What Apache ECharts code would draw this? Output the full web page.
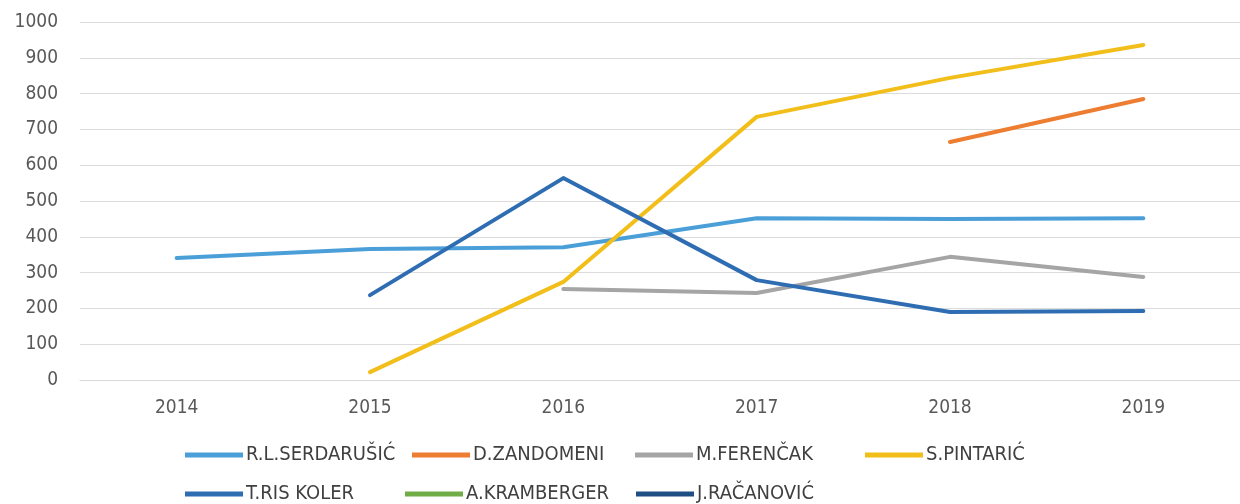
<!DOCTYPE html>
<html>
<head>
<meta charset="utf-8">
<script src="https://cdn.jsdelivr.net/npm/echarts@6/dist/echarts.min.js"></script>
<style>
  html, body { margin: 0; padding: 0; background: #fff; }
  #chart { width: 1240px; height: 504px; }
</style>
</head>
<body>
<div id="chart"></div>
<script>
// data
var years = ['2014', '2015', '2016', '2017', '2018', '2019']
var serdarusic = [341, 366, 371, 452, 450, 452]
var zandomeni = [null, null, null, null, 665, 785]
var ferencak = [null, null, 254, 243, 344, 288]
var pintaric = [null, 22, 274, 735, 844, 936]
var risKoler = [null, 237, 564, 279, 190, 193]
var kramberger = [null, null, null, null, null, null]
var racanovic = [null, null, null, null, null, null]

var names = ['R.L.SERDARUŠIĆ', 'D.ZANDOMENI', 'M.FERENČAK', 'S.PINTARIĆ', 'T.RIS KOLER', 'A.KRAMBERGER', 'J.RAČANOVIĆ']
var colors = ['#4A9FD8', '#ED7D31', '#A5A5A5', '#F2BE1A', '#2E6DB2', '#70AD47', '#1F4E85']
var values = [serdarusic, zandomeni, ferencak, pintaric, risKoler, kramberger, racanovic]

// legend slots (left, top) like the original two-row layout
var legendLeft = [185, 412, 635, 865, 185, 405, 636]
var legendTop = [445, 445, 445, 445, 484, 484, 484]

var font = '"Liberation Sans Narrow", "DejaVu Sans Condensed", "Liberation Sans", sans-serif'

var chart = echarts.init(document.getElementById('chart'))

chart.setOption({
  animation: false,
  color: colors,
  grid: {
    left: 80,
    right: 0,
    top: 22,
    bottom: 124
  },
  legend: names.map(function (name, i) {
    return {
      data: [name],
      left: legendLeft[i],
      top: legendTop[i],
      padding: 0,
      icon: 'rect',
      itemWidth: 58,
      itemHeight: 5,
      itemGap: 0,
      textStyle: {
        color: '#404040',
        fontSize: 20,
        fontFamily: font,
        padding: [0, 0, 0, -2]
      }
    }
  }),
  xAxis: {
    type: 'category',
    data: years,
    boundaryGap: true,
    axisLine: {
      lineStyle: { color: '#D9D9D9' }
    },
    axisTick: { show: false },
    axisLabel: {
      color: '#595959',
      fontSize: 19,
      fontFamily: font,
      margin: 19
    }
  },
  yAxis: {
    type: 'value',
    min: 0,
    max: 1000,
    interval: 100,
    axisLine: { show: false },
    axisTick: { show: false },
    axisLabel: {
      color: '#595959',
      fontSize: 19,
      fontFamily: font,
      margin: 22,
      formatter: function (v) { return String(v) }
    },
    splitLine: {
      lineStyle: { color: '#DCDCDC', width: 1 }
    }
  },
  series: names.map(function (name, i) {
    return {
      name: name,
      type: 'line',
      data: values[i],
      showSymbol: false,
      symbol: 'none',
      connectNulls: false,
      lineStyle: {
        color: colors[i],
        width: 4,
        cap: 'round',
        join: 'round'
      },
      itemStyle: { color: colors[i] }
    }
  })
})
</script>
</body>
</html>
